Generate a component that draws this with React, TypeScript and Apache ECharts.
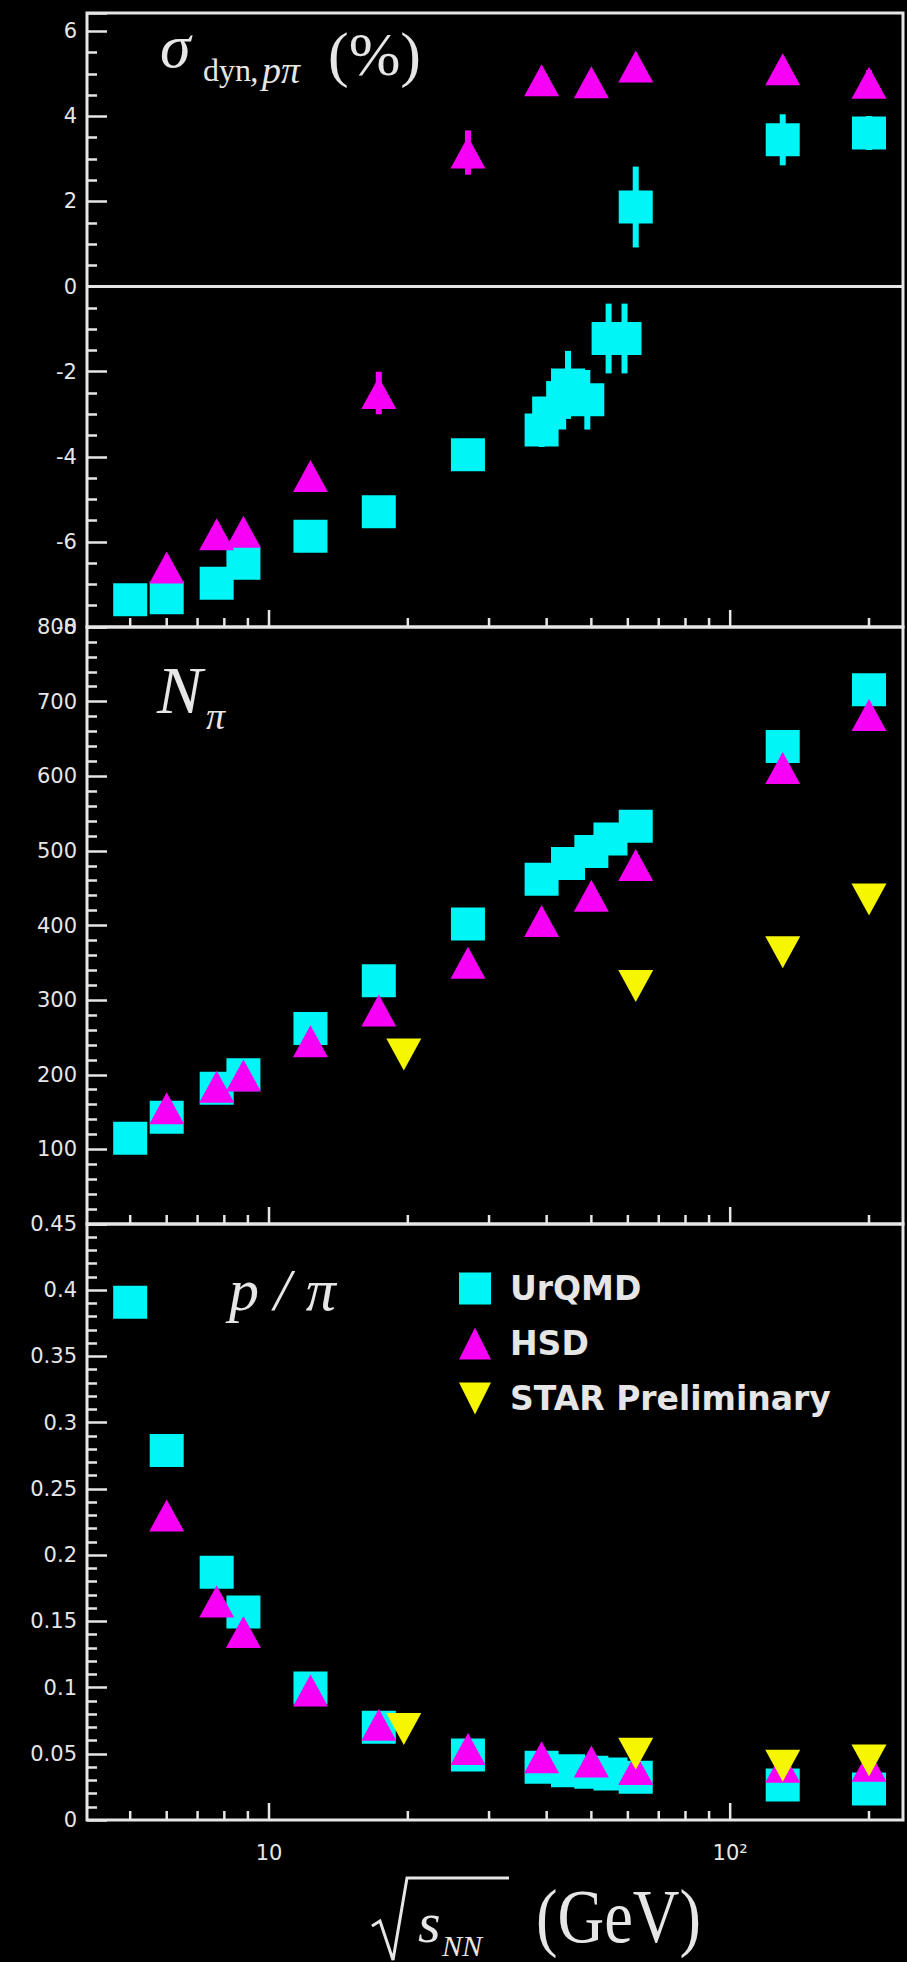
import React, { useEffect, useRef } from 'react';
import * as echarts from 'echarts';

// ---- data ----
const energyUrQMDSigma = [5, 6, 7.7, 8.8, 12.3, 17.3, 27, 39, 40.5, 44.5, 49, 54.5, 59, 62.4, 130, 200];
const sigmaUrQMD = [-7.36, -7.31, -6.97, -6.5, -5.87, -5.29, -3.95, -3.37, -2.97, -2.31, -2.66, -1.22, -1.22, 1.87, 3.45, 3.61];
const sigmaUrQMDErr = [0, 0, 0, 0, 0, 0, 0, 0.4, 0.75, 0.8, 0.7, 0.82, 0.82, 0.95, 0.6, 0.4];

const energyUrQMD = [5, 6, 7.7, 8.8, 12.3, 17.3, 27, 39, 44.5, 50, 55, 62.4, 130, 200];
const nPiUrQMD = [115, 143, 182, 200, 262, 326, 402, 462, 483, 499, 516, 533, 640, 716];
const pPiUrQMD = [0.391, 0.279, 0.187, 0.157, 0.0996, 0.07, 0.049, 0.0398, 0.0372, 0.036, 0.0347, 0.0322, 0.0264, 0.0234];

const energyHSD = [6, 7.7, 8.8, 12.3, 17.3, 27, 39, 50, 62.4, 130, 200];
const sigmaHSD = [-6.6, -5.82, -5.76, -4.45, -2.5, 3.15, 4.85, 4.8, 5.17, 5.11, 4.79];
const sigmaHSDErr = [0, 0, 0, 0, 0.5, 0.52, 0, 0, 0, 0, 0.3];
const nPiHSD = [155, 184, 199, 245, 286, 350, 406, 440, 481, 611, 682];
const pPiHSD = [0.23, 0.165, 0.142, 0.0978, 0.0719, 0.0537, 0.0474, 0.0441, 0.0386, 0.0402, 0.041];

const energySTAR = [19.6, 62.4, 130, 200];
const nPiSTAR = [227, 319, 364, 435];
const pPiSTAR = [0.0688, 0.05, 0.041, 0.0449];

const xMajorTicks = [10, 100];
const xMinorTicks = [5, 6, 7, 8, 9, 20, 30, 40, 50, 60, 70, 80, 90, 200];

// ---- styling ----
const CYAN = '#00f6f6';
const MAGENTA = '#f600f6';
const YELLOW = '#f6f600';
const FG = '#e6e6e6';
const X_MIN = 4.03;
const X_MAX = 237;

const zip = (xs: number[], ys: number[]) => xs.map((x, i) => [x, ys[i]]);
const zip3 = (xs: number[], ys: number[], es: number[]) =>
  xs.map((x, i) => [x, ys[i], es[i]]).filter((d) => d[2] > 0);

const SQUARE = [34, 33];
const TRI = [35, 32];

function errSeries(data: number[][], color: string) {
  return {
    type: 'custom',
    xAxisIndex: 0,
    yAxisIndex: 0,
    silent: true,
    z: 1,
    data,
    encode: { x: 0, y: 1 },
    renderItem: (params: any, api: any) => {
      const x = api.value(0);
      const y = api.value(1);
      const e = api.value(2);
      const p1 = api.coord([x, y - e]);
      const p2 = api.coord([x, y + e]);
      return {
        type: 'line',
        shape: { x1: p1[0], y1: p1[1], x2: p2[0], y2: p2[1] },
        style: { stroke: color, lineWidth: 6 },
      };
    },
  };
}

function tickSeries(gridIdx: number, yBottom: number) {
  const data = [
    ...xMajorTicks.map((v) => [v, yBottom, 17]),
    ...xMinorTicks.map((v) => [v, yBottom, 9]),
  ];
  return {
    type: 'custom',
    xAxisIndex: gridIdx,
    yAxisIndex: gridIdx,
    silent: true,
    z: 5,
    data,
    encode: { x: 0, y: 1 },
    renderItem: (params: any, api: any) => {
      const p = api.coord([api.value(0), api.value(1)]);
      const len = api.value(2);
      return {
        type: 'line',
        shape: { x1: p[0], y1: p[1] - 1, x2: p[0], y2: p[1] - len },
        style: { stroke: FG, lineWidth: 2.5 },
      };
    },
  };
}

function scatter(name: string, gridIdx: number, data: number[][], color: string, kind: 'sq' | 'up' | 'down', z: number, extra: any = {}) {
  return {
    type: 'scatter',
    name,
    xAxisIndex: gridIdx,
    yAxisIndex: gridIdx,
    data,
    symbol: kind === 'sq' ? 'rect' : 'triangle',
    symbolSize: kind === 'sq' ? SQUARE : TRI,
    symbolRotate: kind === 'down' ? 180 : 0,
    itemStyle: { color, opacity: 1 },
    z,
    ...extra,
  };
}

const yLabel = { color: FG, fontSize: 21, fontFamily: 'DejaVu Sans', margin: 10 };

function xAxisDef(gridIdx: number, showLabel: boolean) {
  return {
    type: 'log',
    gridIndex: gridIdx,
    min: X_MIN,
    max: X_MAX,
    logBase: 10,
    axisLine: { show: false },
    axisTick: { show: false },
    splitLine: { show: false },
    minorTick: { show: false },
    axisLabel: {
      show: showLabel,
      color: FG,
      fontSize: 21,
      fontFamily: 'DejaVu Sans',
      margin: 22,
      formatter: (v: number) => {
        const l = Math.log10(v);
        if (Math.abs(l - Math.round(l)) > 1e-6) return '';
        const n = Math.round(l);
        return n === 1 ? '10' : n === 2 ? '10²' : '';
      },
    },
  };
}

function yAxisDef(gridIdx: number, min: number, max: number, interval: number, minorSplit: number, extraLabel: any = {}) {
  return {
    type: 'value',
    gridIndex: gridIdx,
    min,
    max,
    interval,
    axisLine: { show: false },
    axisTick: { show: true, inside: true, length: 20, lineStyle: { color: FG, width: 2.5 } },
    minorTick: { show: true, splitNumber: minorSplit, length: 10, lineStyle: { color: FG, width: 2.5 } },
    splitLine: { show: false },
    axisLabel: { ...yLabel, ...extraLabel },
  };
}

const gridBase = { left: 87, width: 816, show: true, borderColor: FG, borderWidth: 3, backgroundColor: 'transparent' };

const serif = 'Liberation Serif';

function txt(text: string, x: number, y: number, size: number, italic: boolean, extra: any = {}) {
  return {
    type: 'text',
    x,
    y,
    silent: true,
    z: 50,
    ...extra,
    style: {
      text,
      fill: FG,
      fontSize: size,
      fontFamily: serif,
      fontStyle: italic ? 'italic' : 'normal',
      align: 'left',
      verticalAlign: 'middle',
    },
  };
}

export default function App() {
  const ref = useRef<HTMLDivElement>(null);
  useEffect(() => {
    document.body.style.margin = '0';
    document.body.style.background = '#000';
    const chart = echarts.init(ref.current!, null, { renderer: 'svg' });
    const option: any = {
      animation: false,
      backgroundColor: '#000',
      grid: [
        { ...gridBase, top: 13, height: 614 },
        { ...gridBase, top: 627, height: 597 },
        { ...gridBase, top: 1224, height: 596 },
      ],
      xAxis: [xAxisDef(0, false), xAxisDef(1, false), xAxisDef(2, true)],
      yAxis: [
        yAxisDef(0, -8, 6.43, 2, 4, {
          formatter: (v: number) => (Math.abs(v / 2 - Math.round(v / 2)) < 1e-9 ? String(Math.round(v)) : ''),
        }),
        yAxisDef(1, 0, 800, 100, 5, { showMinLabel: false }),
        yAxisDef(2, 0, 0.45, 0.05, 5),
      ],
      legend: {
        orient: 'vertical',
        left: 454,
        top: 1267,
        itemWidth: 32,
        itemHeight: 32,
        itemGap: 22,
        selectedMode: false,
        textStyle: { color: FG, fontSize: 33, fontWeight: 'bold', fontFamily: 'DejaVu Sans', padding: [0, 0, 0, 14] },
        data: [
          { name: 'UrQMD', icon: 'rect' },
          { name: 'HSD', icon: 'triangle' },
          { name: 'STAR Preliminary', icon: 'path://M0,0L10,0L5,10Z' },
        ],
      },
      series: [
        errSeries(zip3(energyUrQMDSigma, sigmaUrQMD, sigmaUrQMDErr), CYAN),
        errSeries(zip3(energyHSD, sigmaHSD, sigmaHSDErr), MAGENTA),
        scatter('UrQMD', 0, zip(energyUrQMDSigma, sigmaUrQMD), CYAN, 'sq', 2, {
          markLine: {
            silent: true,
            symbol: ['none', 'none'],
            label: { show: false },
            lineStyle: { color: FG, width: 3, type: 'solid' },
            data: [{ yAxis: 0 }],
          },
        }),
        scatter('HSD', 0, zip(energyHSD, sigmaHSD), MAGENTA, 'up', 3),
        tickSeries(0, -8),

        scatter('UrQMD', 1, zip(energyUrQMD, nPiUrQMD), CYAN, 'sq', 2),
        scatter('HSD', 1, zip(energyHSD, nPiHSD), MAGENTA, 'up', 3),
        scatter('STAR Preliminary', 1, zip(energySTAR, nPiSTAR), YELLOW, 'down', 4),
        tickSeries(1, 0),

        scatter('UrQMD', 2, zip(energyUrQMD, pPiUrQMD), CYAN, 'sq', 2),
        scatter('HSD', 2, zip(energyHSD, pPiHSD), MAGENTA, 'up', 3),
        scatter('STAR Preliminary', 2, zip(energySTAR, pPiSTAR), YELLOW, 'down', 4),
        tickSeries(2, 0),
      ],
      graphic: [
        txt('σ', 160, 46, 62, true),
        txt('dyn', 203, 70, 32, false),
        txt(',', 250, 70, 34, true),
        txt('pπ', 262, 70, 38, true),
        txt('(%)', 328, 54, 62, false),
        txt('N', 157, 690, 68, true),
        txt('π', 206, 716, 38, true),
        txt('p / π', 229, 1290, 60, true),
        txt('s', 418, 1922, 58, true),
        txt('NN', 442, 1945, 30, true),
        txt('(GeV)', 536, 1916, 76, false, { scaleX: 0.85, originX: 0, originY: 0 }),
        {
          type: 'polyline',
          silent: true,
          z: 50,
          shape: { points: [[372, 1926], [380, 1921], [393, 1960], [407, 1878], [509, 1878]] },
          style: { stroke: FG, lineWidth: 3, fill: 'none' },
        },
      ],
    };
    chart.setOption(option);
    return () => chart.dispose();
  }, []);
  return (
    <div
      ref={ref}
      style={{ position: 'absolute', left: 0, top: 0, width: 907, height: 1962, background: '#000' }}
    />
  );
}
